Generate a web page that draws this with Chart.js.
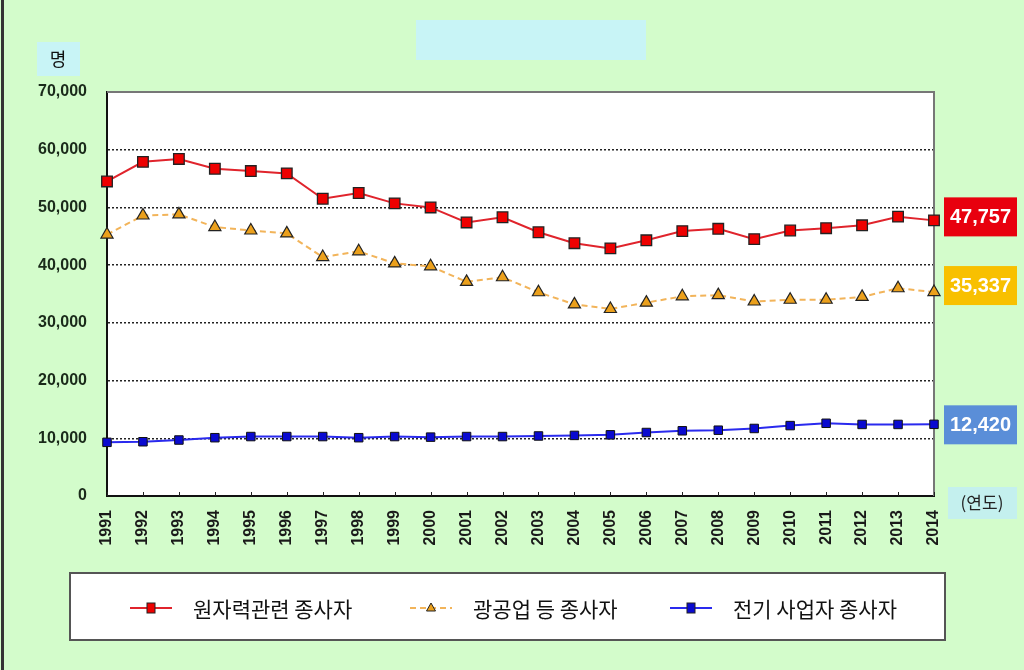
<!DOCTYPE html>
<html>
<head>
<meta charset="utf-8">
<script src="https://cdn.jsdelivr.net/npm/chart.js@4"></script>
<style>
  body { margin: 0; background: #d3fccb; }
  #wrap { width: 1024px; height: 670px; position: relative; }
</style>
</head>
<body>
<div id="wrap"><canvas id="myChart" width="1024" height="670"></canvas></div>
<script>
// data
const years = ["1991","1992","1993","1994","1995","1996","1997","1998","1999","2000","2001","2002",
  "2003","2004","2005","2006","2007","2008","2009","2010","2011","2012","2013","2014"];
const nuclear = [54500, 57900, 58400, 56700, 56300, 55900, 51500, 52500, 50700, 50000, 47400, 48300,
  45700, 43800, 42900, 44300, 45900, 46300, 44500, 46000, 46400, 46900, 48400, 47757];
const mining = [45300, 48600, 48800, 46600, 46000, 45500, 41400, 42400, 40300, 39800, 37100, 37900,
  35300, 33200, 32400, 33500, 34600, 34800, 33700, 34000, 34000, 34500, 36000, 35337];
const electric = [9300, 9400, 9700, 10100, 10300, 10300, 10300, 10100, 10300, 10200, 10300, 10300,
  10400, 10500, 10600, 11000, 11300, 11400, 11700, 12200, 12600, 12400, 12400, 12420];
const seriesNames = ["원자력관련 종사자", "광공업 등 종사자", "전기 사업자 종사자"];
const unitLabel = "명";
const xUnitLabel = "(연도)";

const fmt = (v) => v.toLocaleString("en-US");

// boxes, legend, borders etc
const extras = {
  id: "extras",
  beforeDraw(chart) {
    const ctx = chart.ctx;
    ctx.save();
    // title box (empty)
    ctx.fillStyle = "#c8f4f6";
    ctx.fillRect(416, 20, 230, 40);
    // unit box
    ctx.fillRect(37, 42, 43, 34);
    ctx.fillStyle = "#111";
    ctx.font = "18px 'Noto Sans CJK KR'";
    ctx.textAlign = "center";
    ctx.textBaseline = "middle";
    ctx.fillText(unitLabel, 58, 59);
    // left page border
    ctx.fillStyle = "#333";
    ctx.fillRect(1, 0, 3, 670);
    // plot background
    const a = chart.chartArea;
    ctx.fillStyle = "#fff";
    ctx.fillRect(a.left, a.top, a.right - a.left, a.bottom - a.top);
    ctx.restore();
  },
  afterDraw(chart) {
    const ctx = chart.ctx;
    const ys = chart.scales.y;
    ctx.save();
    // value boxes on the right
    const last = years.length - 1;
    const boxes = [
      { v: nuclear[last], c: "#e8000e", dy: -4 },
      { v: mining[last], c: "#f8c000", dy: -7 },
      { v: electric[last], c: "#5a8ed8", dy: 0 }
    ];
    ctx.font = "bold 20px Arial";
    ctx.textAlign = "center";
    ctx.textBaseline = "middle";
    boxes.forEach((b) => {
      const cy = ys.getPixelForValue(b.v) + b.dy;
      ctx.fillStyle = b.c;
      ctx.fillRect(944, cy - 19, 73, 39);
      ctx.fillStyle = "#fff";
      ctx.fillText(fmt(b.v), 980.5, cy + 1);
    });
    // (연도) box
    ctx.fillStyle = "#c4f0ee";
    ctx.fillRect(948, 487, 69, 32);
    ctx.fillStyle = "#222";
    ctx.font = "17px 'Noto Sans CJK KR'";
    ctx.fillText(xUnitLabel, 982, 503);
    // legend box
    ctx.fillStyle = "#fff";
    ctx.fillRect(70, 573, 875, 67);
    ctx.strokeStyle = "#555";
    ctx.lineWidth = 2;
    ctx.strokeRect(70, 573, 875, 67);
    const items = [
      { x: 130, ds: chart.data.datasets[0] },
      { x: 410, ds: chart.data.datasets[1] },
      { x: 670, ds: chart.data.datasets[2] }
    ];
    const ly = 608;
    items.forEach((it, i) => {
      const ds = it.ds;
      ctx.strokeStyle = ds.borderColor;
      ctx.lineWidth = 2;
      ctx.setLineDash(ds.borderDash || []);
      ctx.beginPath();
      ctx.moveTo(it.x, ly);
      ctx.lineTo(it.x + 42, ly);
      ctx.stroke();
      ctx.setLineDash([]);
      ctx.fillStyle = ds.pointBackgroundColor;
      ctx.strokeStyle = "#222";
      ctx.lineWidth = 1;
      const mx = it.x + 21;
      if (ds.pointStyle === "triangle") {
        ctx.beginPath();
        ctx.moveTo(mx, ly - 5);
        ctx.lineTo(mx + 4.5, ly + 3);
        ctx.lineTo(mx - 4.5, ly + 3);
        ctx.closePath();
        ctx.fill();
        ctx.stroke();
      } else {
        ctx.fillRect(mx - 4, ly - 5, 8, 10);
        ctx.strokeRect(mx - 4, ly - 5, 8, 10);
      }
      ctx.fillStyle = "#111";
      ctx.font = "21px 'Noto Sans CJK KR'";
      ctx.textAlign = "left";
      ctx.fillText(seriesNames[i], it.x + 63, ly + 1);
    });
    ctx.restore();
  }
};

// frame and small ticks drawn before the lines
const frame = {
  id: "frame",
  beforeDatasetsDraw(chart) {
    const ctx = chart.ctx;
    const a = chart.chartArea;
    const xs = chart.scales.x;
    ctx.save();
    ctx.strokeStyle = "#777";
    ctx.lineWidth = 2;
    ctx.beginPath();
    ctx.moveTo(a.left, a.top);
    ctx.lineTo(a.right, a.top);
    ctx.lineTo(a.right, a.bottom);
    ctx.stroke();
    ctx.strokeStyle = "#222";
    ctx.lineWidth = 1;
    years.forEach((y, i) => {
      const px = Math.round(xs.getPixelForValue(i)) + 0.5;
      ctx.beginPath();
      ctx.moveTo(px, a.bottom);
      ctx.lineTo(px, a.bottom - 4);
      ctx.stroke();
    });
    ctx.restore();
  }
};

new Chart("myChart", {
  type: "line",
  data: {
    labels: years,
    datasets: [
      {
        label: seriesNames[0],
        data: nuclear,
        clip: false,
        borderColor: "#e0242c",
        borderWidth: 2,
        pointStyle: "rect",
        pointRadius: 7.5,
        pointBackgroundColor: "#ee0000",
        pointBorderColor: "#222",
        pointBorderWidth: 1.3
      },
      {
        label: seriesNames[1],
        data: mining,
        clip: false,
        borderColor: "#f2b45a",
        borderWidth: 2,
        borderDash: [6, 4],
        pointStyle: "triangle",
        pointRadius: 7,
        pointBackgroundColor: "#eba01c",
        pointBorderColor: "#222",
        pointBorderWidth: 1.2
      },
      {
        label: seriesNames[2],
        data: electric,
        clip: false,
        borderColor: "#2a2aee",
        borderWidth: 2,
        pointStyle: "rect",
        pointRadius: 6,
        pointBackgroundColor: "#0a0ad0",
        pointBorderColor: "#111",
        pointBorderWidth: 1
      }
    ]
  },
  options: {
    responsive: false,
    animation: false,
    layout: { padding: { top: 92, right: 90, left: 0, bottom: 0 } },
    plugins: {
      legend: { display: false },
      tooltip: { enabled: false }
    },
    scales: {
      x: {
        afterFit: (s) => { s.height = 174; },
        grid: { display: false },
        border: { color: "#111", width: 2 },
        ticks: {
          minRotation: 90,
          maxRotation: 90,
          padding: 6,
          color: "#1a1a1a",
          font: { family: "Arial", size: 16, weight: "bold" }
        }
      },
      y: {
        min: 0,
        max: 70000,
        afterFit: (s) => { s.width = 107; },
        border: { color: "#111", width: 2, dash: [2, 2] },
        grid: {
          drawTicks: false,
          color: (c) => (c.tick.value === 0 || c.tick.value === 70000 ? "rgba(0,0,0,0)" : "#222"),
          lineWidth: 1.5
        },
        ticks: {
          stepSize: 10000,
          padding: 20,
          color: "#1a2a1a",
          font: { family: "Arial", size: 16, weight: "bold" },
          callback: (v) => fmt(v)
        }
      }
    }
  },
  plugins: [frame, extras]
});
</script>
</body>
</html>
